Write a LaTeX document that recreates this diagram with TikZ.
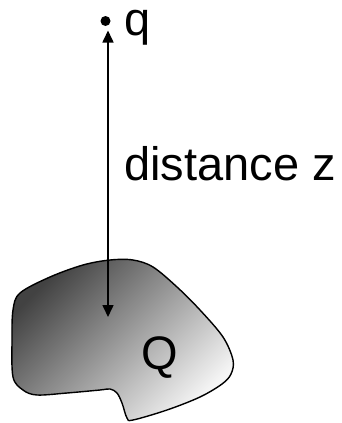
\documentclass[tikz,border=0pt]{standalone}
\usepackage{fontspec}
\setmainfont{Liberation Sans}
\usetikzlibrary{arrows.meta}
\begin{document}
\begin{tikzpicture}[x=1pt,y=-1pt,
  lbl/.style={font=\fontsize{47}{56}\selectfont, inner sep=0pt},
  conn/.style={line width=1.6pt, {Triangle[length=12pt,width=11pt]}-{Triangle[length=12pt,width=11pt]}},
  blob/.style={draw, line width=1.4pt, top color=black!74, bottom color=black!4, shading angle=45}]
\useasboundingbox (0,0) rectangle (342,423);
\shade[blob] plot[smooth cycle, tension=0.55] coordinates {
 (12,340) (13,310) (20,293) (50,277) (83,265) (110,260) (133,260) (153,267)
 (177,287) (200,310) (223,337) (233,360) (231,374) (222,384) (200,397) (167,410)
 (133,420) (127,418) (122,403) (117,393) (110,389) (100,390) (67,393) (37,395)
 (23,390) (13,377)};
\node[circle, fill=black, inner sep=0pt, minimum size=10pt] (q) at (105.5,21) {};
\node[lbl, anchor=base west] (qlabel) at (124,35) {q};
\node[lbl, anchor=base west] (dist) at (124,180) {distance z};
\node[lbl, anchor=base] (Q) at (160,369) {Q};
\coordinate (top) at (108,30.5);
\coordinate (bot) at (108,317);
\draw[conn] (top) -- (bot);
\end{tikzpicture}
\end{document}
